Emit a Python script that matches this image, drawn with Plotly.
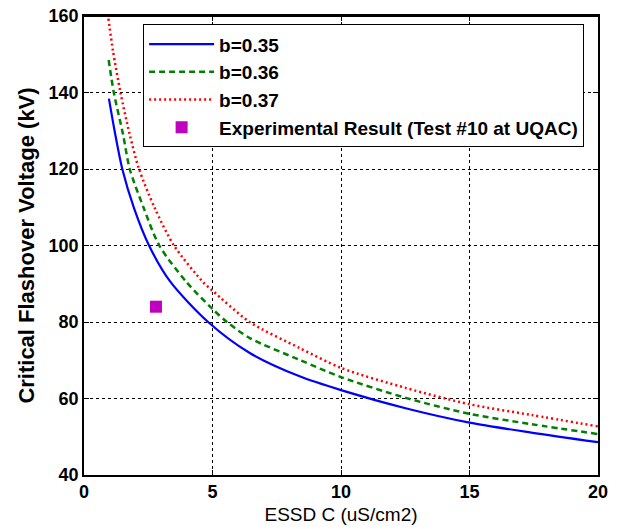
import plotly.graph_objects as go

# ESSD values (uS/cm2) and critical flashover voltage (kV)
c_b035 = [0.97, 1.19, 1.49, 1.95, 2.53, 3.35, 4.83, 6.45, 8.39, 10.0, 12.55, 15.0, 17.4, 20.0]
v_b035 = [138.4, 130.0, 120.0, 109.7, 100.0, 90.6, 80.0, 71.9, 65.8, 62.2, 57.4, 53.7, 51.1, 48.6]

c_b036 = [0.96, 1.16, 1.52, 1.78, 2.33, 2.93, 3.98, 5.0, 5.56, 6.45, 8.39, 10.0, 12.55, 15.0, 17.4, 20.0]
v_b036 = [148.5, 140.0, 129.0, 120.0, 109.7, 100.0, 90.5, 83.4, 80.0, 75.8, 70.1, 65.6, 60.1, 56.0, 53.3, 50.7]

c_b037 = [0.95, 1.13, 1.42, 1.78, 2.14, 2.76, 3.5, 4.65, 5.0, 6.45, 8.39, 10.0, 12.55, 15.0, 17.4, 20.0]
v_b037 = [159.3, 150.8, 140.0, 129.0, 120.0, 109.7, 100.0, 90.3, 88.2, 80.0, 73.2, 68.0, 62.7, 58.5, 55.7, 52.7]

exp_c = [2.8]
exp_v = [84.0]

x_ticks = [0, 5, 10, 15, 20]
y_ticks = [40, 60, 80, 100, 120, 140, 160]

FONT = "Liberation Sans, Arial, sans-serif"

fig = go.Figure()
fig.add_trace(go.Scatter(x=c_b035, y=v_b035, mode="lines", name="b=0.35",
                         legendgroup="a",
                         line=dict(color="#0000FF", width=2.2, shape="spline", smoothing=0.8)))
fig.add_trace(go.Scatter(x=c_b036, y=v_b036, mode="lines", name="b=0.36",
                         legendgroup="b",
                         line=dict(color="#008000", width=2.5, dash="6px,4px", shape="spline", smoothing=0.8)))
fig.add_trace(go.Scatter(x=c_b037, y=v_b037, mode="lines", name="b=0.37",
                         legendgroup="c",
                         line=dict(color="#FF0000", width=2.5, dash="2px,3px", shape="spline", smoothing=0.8)))
fig.add_trace(go.Scatter(x=exp_c, y=exp_v, mode="markers", name="Experimental Result (Test #10 at UQAC)",
                         legendgroup="d",
                         marker=dict(symbol="square", size=12, color="#BF00BF",
                                     line=dict(color="#BF00BF", width=0))))

axis_common = dict(
    showline=True, linecolor="black", linewidth=1.5, mirror="ticks",
    ticks="inside", ticklen=5, tickcolor="black",
    showgrid=True, gridcolor="black", gridwidth=1, griddash="3px,3px",
    zeroline=False, automargin=False, ticklabeloverflow="allow",
    tickfont=dict(family=FONT, size=18, color="black", weight="bold"),
)

fig.update_xaxes(range=[0, 20], tickvals=x_ticks, **axis_common,
                 title=dict(text="ESSD C (uS/cm2)", standoff=6,
                            font=dict(family=FONT, size=19, color="black")))
fig.update_yaxes(range=[40, 160], tickvals=y_ticks, **axis_common,
                 title=dict(text="Critical Flashover Voltage (kV)", standoff=8,
                            font=dict(family=FONT, size=22, color="black", weight="bold")))

fig.update_layout(
    width=617, height=521,
    margin=dict(l=76, r=27, t=8, b=54),
    paper_bgcolor="white", plot_bgcolor="white",
    showlegend=True,
    legend=dict(x=0.115, y=0.982, xanchor="left", yanchor="top",
                bgcolor="white", bordercolor="black", borderwidth=1,
                font=dict(family=FONT, size=19, color="black", weight="bold"),
                itemwidth=65, tracegroupgap=0, traceorder="grouped"),
    shapes=[dict(type="line", xref="paper", yref="paper", x0=0, x1=1, y0=1, y1=1,
                 line=dict(color="black", width=2), layer="above")],
)

fig.write_html("out.html")
